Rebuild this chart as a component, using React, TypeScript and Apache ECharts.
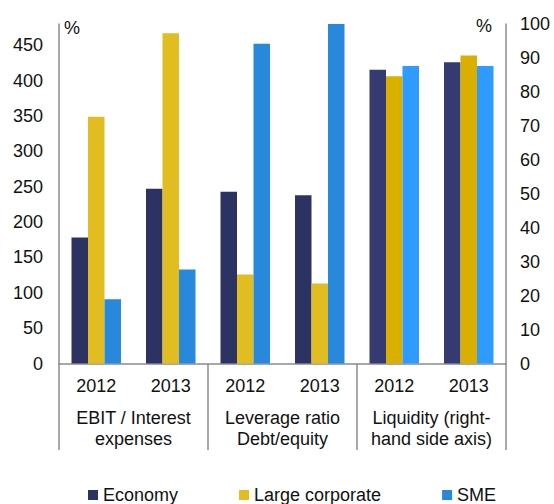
import React, { useEffect, useRef } from 'react';
import * as echarts from 'echarts';

const years = ['2012', '2013'];
const groups = ['EBIT / Interest\nexpenses', 'Leverage ratio\nDebt/equity', 'Liquidity (right-\nhand side axis)'];
const seriesNames = ['Economy', 'Large corporate', 'SME'];
// Left axis (%): EBIT/Interest 2012, 2013, Leverage 2012, 2013
const economyLeft = [178, 247, 243, 238];
const largeLeft = [349, 467, 126, 113];
const smeLeft = [91, 133, 452, 480];
// Right axis (%): Liquidity 2012, 2013
const economyRight = [86.5, 88.7];
const largeRight = [84.6, 90.7];
const smeRight = [87.6, 87.6];
const leftAxis = { min: 0, max: 480, interval: 50 };
const rightAxis = { min: 0, max: 100, interval: 10 };

const leftColors = ['#2c3363', '#e2bd22', '#2888dc'];
const rightColors = ['#353b70', '#d9b000', '#2f9bff'];

const FONT = '"Liberation Sans", Arial, sans-serif';
const GRAY = '#8c8c8c';

export default function App() {
  const ref = useRef<HTMLDivElement>(null);
  useEffect(() => {
    if (!ref.current) return;
    const chart = echarts.init(ref.current, null, { renderer: 'svg' });
    const categories = groups.flatMap(() => years);
    const leftData = [economyLeft, largeLeft, smeLeft];
    const rightData = [economyRight, largeRight, smeRight];
    const series: any[] = [];
    seriesNames.forEach((name, i) => {
      series.push({
        name,
        type: 'bar',
        xAxisIndex: 0,
        yAxisIndex: 0,
        barWidth: 16.5,
        barGap: '0%',
        itemStyle: { color: leftColors[i] },
        data: [...leftData[i], '-', '-'],
      });
    });
    seriesNames.forEach((name, i) => {
      series.push({
        name,
        type: 'bar',
        xAxisIndex: 1,
        yAxisIndex: 1,
        barWidth: 16.5,
        barGap: '0%',
        itemStyle: { color: rightColors[i] },
        data: ['-', '-', '-', '-', ...rightData[i]],
      });
    });
    chart.setOption({
      animation: false,
      textStyle: { fontFamily: FONT },
      grid: { left: 59, right: 48, top: 24, bottom: 140.5, containLabel: false },
      legend: {
        data: seriesNames,
        left: 83,
        top: 481,
        icon: 'rect',
        itemWidth: 10,
        itemHeight: 10,
        itemGap: 61,
        textStyle: { fontSize: 18, color: '#111', fontFamily: FONT },
      },
      xAxis: [
        {
          type: 'category',
          data: categories,
          position: 'bottom',
          axisLine: { show: true, lineStyle: { color: GRAY, width: 1.5 } },
          axisTick: { show: false },
          axisLabel: { margin: 13, fontSize: 18, color: '#111', fontFamily: FONT, interval: 0 },
        },
        {
          type: 'category',
          data: categories,
          show: false,
        },
        {
          type: 'category',
          data: groups,
          position: 'bottom',
          axisLine: { show: false },
          axisTick: { show: true, length: 86.5, lineStyle: { color: GRAY, width: 1.5 }, interval: 0 },
          axisLabel: { margin: 44, fontSize: 18, lineHeight: 21, color: '#111', fontFamily: FONT, interval: 0 },
        },
      ],
      yAxis: [
        {
          type: 'value',
          min: leftAxis.min,
          max: leftAxis.max,
          interval: leftAxis.interval,
          axisLine: { show: true, lineStyle: { color: GRAY, width: 1.5 } },
          axisTick: { show: false },
          splitLine: { show: false },
          axisLabel: {
            margin: 16,
            fontSize: 18,
            color: '#111',
            fontFamily: FONT,
            formatter: (v: number) => (v === leftAxis.max ? '' : String(v)),
          },
        },
        {
          type: 'value',
          position: 'right',
          min: rightAxis.min,
          max: rightAxis.max,
          interval: rightAxis.interval,
          axisLine: { show: true, lineStyle: { color: GRAY, width: 1.5 } },
          axisTick: { show: false },
          splitLine: { show: false },
          axisLabel: { margin: 14, fontSize: 18, color: '#111', fontFamily: FONT },
        },
      ],
      graphic: [
        {
          type: 'text',
          left: 64,
          top: 19,
          style: { text: '%', fontSize: 18, fill: '#111', fontFamily: FONT },
        },
        {
          type: 'text',
          left: 476,
          top: 17,
          style: { text: '%', fontSize: 18, fill: '#111', fontFamily: FONT },
        },
      ],
      series,
    });
    return () => chart.dispose();
  }, []);
  return (
    <div
      ref={ref}
      style={{ position: 'fixed', left: 0, top: 0, width: 554, height: 504, background: '#fff' }}
    />
  );
}
